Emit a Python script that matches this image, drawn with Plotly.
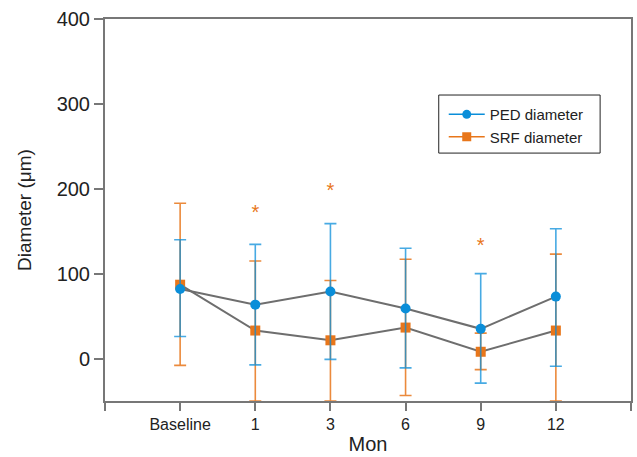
import plotly.graph_objects as go

categories = ["Baseline", "1", "3", "6", "9", "12"]
xpos = [0, 1, 2, 3, 4, 5]

ped_mean = [82, 63.5, 79, 59, 35, 73]
ped_plus = [58, 71, 80, 71, 65, 80]
ped_minus = [56, 71, 80, 70, 64, 82]

srf_mean = [87, 33, 21.5, 36.5, 8, 33]
srf_plus = [96, 82, 70.5, 80.5, 22, 90]
srf_minus = [95, 83, 71.5, 80, 21, 83]

star_x = [1, 2, 4]
star_y = [170, 196, 131]

BLUE = "#0a8ed9"
ORANGE = "#e8761a"
GRAY = "#6e6e6e"
AX = "#777777"
FONT = "Liberation Sans, Arial, sans-serif"

fig = go.Figure()

# gray connecting lines
for m in (ped_mean, srf_mean):
    fig.add_trace(go.Scatter(x=xpos, y=m, mode="lines",
                             line=dict(color=GRAY, width=2), showlegend=False,
                             hoverinfo="skip"))

# markers with error bars
fig.add_trace(go.Scatter(
    x=xpos, y=srf_mean, mode="markers", showlegend=False,
    marker=dict(symbol="square", size=10, color=ORANGE),
    error_y=dict(type="data", symmetric=False, array=srf_plus, arrayminus=srf_minus,
                 color="rgba(232,118,26,0.85)", thickness=1.6, width=6)))
fig.add_trace(go.Scatter(
    x=xpos, y=ped_mean, mode="markers", showlegend=False,
    marker=dict(symbol="circle", size=10, color=BLUE),
    error_y=dict(type="data", symmetric=False, array=ped_plus, arrayminus=ped_minus,
                 color="rgba(10,142,217,0.75)", thickness=1.6, width=6)))

# legend entries
fig.add_trace(go.Scatter(x=[None], y=[None], mode="lines+markers", name="PED diameter",
                         line=dict(color=BLUE, width=1.5),
                         marker=dict(symbol="circle", size=9, color=BLUE)))
fig.add_trace(go.Scatter(x=[None], y=[None], mode="lines+markers", name="SRF diameter",
                         line=dict(color=ORANGE, width=1.5),
                         marker=dict(symbol="square", size=9, color=ORANGE)))

# significance stars
fig.add_trace(go.Scatter(x=star_x, y=star_y, mode="text", text=["*"] * len(star_x),
                         textfont=dict(color=ORANGE, size=20, family=FONT),
                         showlegend=False, hoverinfo="skip"))

fig.update_layout(
    width=637, height=457,
    margin=dict(l=105, r=4, t=19, b=56),
    plot_bgcolor="white", paper_bgcolor="white",
    font=dict(family=FONT, color="#222222"),
    legend=dict(x=0.644, y=0.721, xanchor="left", yanchor="middle",
                borderwidth=0, bgcolor="rgba(0,0,0,0)",
                font=dict(size=15, family=FONT), tracegroupgap=0, itemwidth=36),
    shapes=[dict(type="rect", xref="paper", yref="paper",
                 x0=0.6345, x1=0.9413, y0=0.649, y1=0.801,
                 line=dict(color="#222222", width=1), fillcolor="rgba(0,0,0,0)",
                 layer="above")],
)

fig.update_xaxes(
    range=[-1, 6], tickmode="array", tickvals=[-1] + xpos + [6],
    ticktext=[""] + categories + [""],
    showline=True, linecolor=AX, linewidth=2, mirror=True,
    ticks="outside", ticklen=8, tickwidth=2, tickcolor=AX,
    showgrid=False, zeroline=False,
    tickfont=dict(size=16, family=FONT, color="#222222"),
    title=dict(text="Mon", font=dict(size=20, family=FONT, color="#222222"), standoff=5),
)
fig.update_yaxes(
    range=[-50, 400], tickvals=[0, 100, 200, 300, 400],
    showline=True, linecolor=AX, linewidth=2, mirror=True,
    ticks="outside", ticklen=9, tickwidth=2, tickcolor=AX,
    showgrid=False, zeroline=False,
    tickfont=dict(size=20, family=FONT, color="#222222"),
    title=dict(text="Diameter (μm)", font=dict(size=19, family=FONT, color="#222222"), standoff=20),
)

fig.write_html("out.html")
